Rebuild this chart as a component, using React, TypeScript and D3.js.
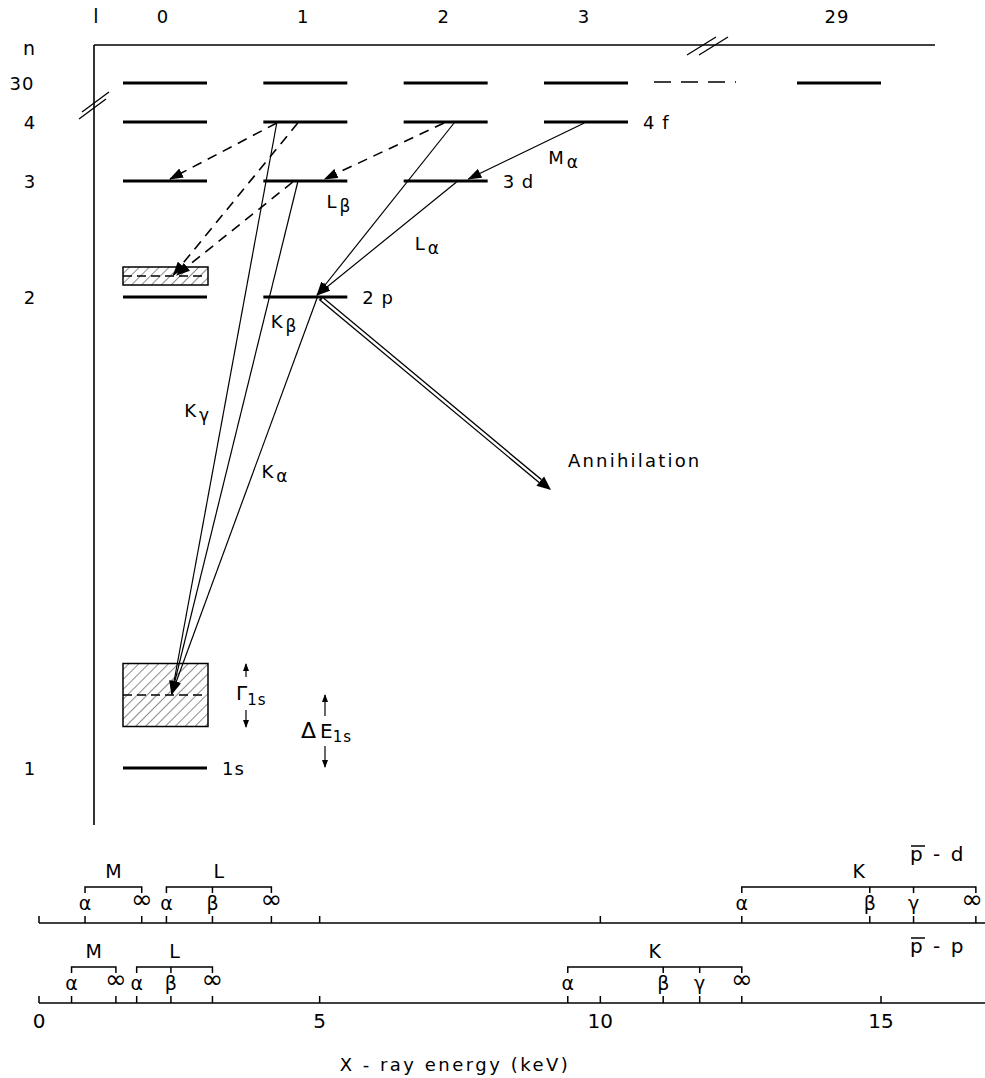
import React from "react";
import * as d3 from "d3";

// header / row labels
const lHeader = [0, 1, 2, 3, 29];
const nHeader = [1, 2, 3, 4, 30];

// atomic levels present in the scheme
const levels = [
  { n: 30, l: 0 }, { n: 30, l: 1 }, { n: 30, l: 2 }, { n: 30, l: 3 }, { n: 30, l: 29 },
  { n: 4, l: 0 }, { n: 4, l: 1 }, { n: 4, l: 2 }, { n: 4, l: 3, name: "4 f" },
  { n: 3, l: 0 }, { n: 3, l: 1 }, { n: 3, l: 2, name: "3 d" },
  { n: 2, l: 0 }, { n: 2, l: 1, name: "2 p" },
  { n: 1, l: 0, name: "1s" },
];

// s levels shifted and broadened by the strong interaction
const broadened = [
  { n: 2, l: 0, shift: 21, width: 18 },
  { n: 1, l: 0, shift: 73, width: 63 },
];

const transitions = [
  { name: "K", sub: "α", from: [2, 1], to: [1, 0], dashed: false },
  { name: "K", sub: "β", from: [3, 1], to: [1, 0], dashed: false },
  { name: "K", sub: "γ", from: [4, 1], to: [1, 0], dashed: false },
  { name: "L", sub: "α", from: [3, 2], to: [2, 1], dashed: false },
  { name: "L", sub: "β", from: [4, 2], to: [2, 1], dashed: false },
  { name: "M", sub: "α", from: [4, 3], to: [3, 2], dashed: false },
  { name: "", sub: "", from: [4, 1], to: [3, 0], dashed: true },
  { name: "", sub: "", from: [4, 1], to: [2, 0], dashed: true },
  { name: "", sub: "", from: [3, 1], to: [2, 0], dashed: true },
  { name: "", sub: "", from: [4, 2], to: [3, 1], dashed: true },
];

// X-ray line energies (keV)
const pdGroups = [
  { name: "M", lines: [["α", 0.82], ["∞", 1.83]] },
  { name: "L", lines: [["α", 2.27], ["β", 3.09], ["∞", 4.14]] },
  { name: "K", lines: [["α", 12.52], ["β", 14.8], ["γ", 15.58], ["∞", 16.69]] },
];
const ppGroups = [
  { name: "M", lines: [["α", 0.58], ["∞", 1.37]] },
  { name: "L", lines: [["α", 1.74], ["β", 2.35], ["∞", 3.09]] },
  { name: "K", lines: [["α", 9.42], ["β", 11.12], ["γ", 11.77], ["∞", 12.52]] },
];
const pdTicks = [0, 5, 10];
const ppTicks = [0, 5, 10, 15];

// layout of transition anchors: [fromFrac, toFrac, labelT, labelDx, labelDy]
const transLayout = [
  [0.64, 0.58, 0.424, 6, 12],
  [0.41, 0.58, 0.262, 6, 12],
  [0.16, 0.58, 0.5, -40, 8],
  [0.63, 0.64, 0.53, 32, 8],
  [0.6, 0.64, 0.45, -66, 8],
  [0.48, 0.77, 0.2, -13, 30],
  [0.16, 0.56, 0, 0, 0],
  [0.41, 0.6, 0, 0, 0],
  [0.35, 0.64, 0, 0, 0],
  [0.48, 0.73, 0, 0, 0],
];

const W = 985;
const H = 1078;
const FONT = "DejaVu Sans, sans-serif";
const LW = 84;

const xL = d3.scaleLinear().domain([0, 3, 29]).range([123, 544, 797]);
const yN = d3.scaleLinear().domain([1, 2, 3, 4, 30]).range([768, 297, 181, 122, 83]);
const xE = d3.scaleLinear().domain([0, 15]).range([39, 881]);

function levelY(n: number, l: number) {
  const b = broadened.find((d) => d.n === n && d.l === l);
  return b ? yN(n) - b.shift : yN(n);
}

function Spectrum({ groups, axisY, ticks, title, titleY }: any) {
  const brY = axisY - 36;
  return (
    <g>
      <line x1={xE(0)} x2={W} y1={axisY} y2={axisY} stroke="#000" strokeWidth={1.5} />
      {ticks.map((t: number) => (
        <line key={t} x1={xE(t)} x2={xE(t)} y1={axisY} y2={axisY - 7} stroke="#000" strokeWidth={1.5} />
      ))}
      {groups.map((g: any) => {
        const es = g.lines.map((d: any) => d[1]);
        const x0 = xE(d3.min(es) as number);
        const x1 = xE(d3.max(es) as number);
        return (
          <g key={g.name}>
            <path d={`M${x0},${brY + 6}V${brY}H${x1}V${brY + 6}`} fill="none" stroke="#000" strokeWidth={1.5} />
            <text x={(x0 + x1) / 2} y={brY - 9} textAnchor="middle" fontSize={19} fontFamily={FONT}>{g.name}</text>
            {g.lines.map((d: any, i: number) => (
              <g key={i}>
                {i > 0 && i < g.lines.length - 1 && (
                  <line x1={xE(d[1])} x2={xE(d[1])} y1={brY} y2={brY + 6} stroke="#000" strokeWidth={1.5} />
                )}
                <line x1={xE(d[1])} x2={xE(d[1])} y1={axisY} y2={axisY - 7} stroke="#000" strokeWidth={1.5} />
                <text x={Math.min(xE(d[1]), W - 13)} y={axisY - (d[0] === "∞" ? 15 : 13)} textAnchor="middle"
                  fontSize={d[0] === "∞" ? 26 : 19} fontFamily={FONT}>{d[0]}</text>
              </g>
            ))}
          </g>
        );
      })}
      <text x={910} y={titleY} fontSize={20} fontFamily={FONT} letterSpacing={2}>{"p  -  " + title}</text>
      <line x1={911} x2={925} y1={titleY - 15} y2={titleY - 15} stroke="#000" strokeWidth={1.5} />
    </g>
  );
}

export default function App() {
  return (
    <div style={{ position: "absolute", left: 0, top: 0 }}>
      <svg width={W} height={H} style={{ display: "block", background: "#fff" }}>
        <defs>
          <pattern id="hatch" patternUnits="userSpaceOnUse" width={7} height={7} patternTransform="rotate(45)">
            <line x1={0} y1={0} x2={0} y2={7} stroke="#000" strokeWidth={0.9} />
          </pattern>
          <marker id="head" markerUnits="userSpaceOnUse" markerWidth={14} markerHeight={10} refX={13} refY={5} orient="auto">
            <path d="M0,0L14,5L0,10z" fill="#000" />
          </marker>
          <marker id="small" markerUnits="userSpaceOnUse" markerWidth={8} markerHeight={6} refX={7} refY={3} orient="auto">
            <path d="M0,0L8,3L0,6z" fill="#000" />
          </marker>
        </defs>

        {/* headers */}
        <text x={96} y={23} textAnchor="middle" fontSize={19} fontFamily={FONT}>l</text>
        {lHeader.map((l) => (
          <text key={l} x={xL(l) + 40} y={23} textAnchor="middle" fontSize={18} fontFamily={FONT} letterSpacing={1}>{l}</text>
        ))}
        <text x={29} y={55} textAnchor="middle" fontSize={19} fontFamily={FONT}>n</text>
        {nHeader.map((n) => (
          <text key={n} x={n === 30 ? 22 : 30} y={yN(n) + 7} textAnchor="middle" fontSize={18} fontFamily={FONT} letterSpacing={1}>{n}</text>
        ))}

        {/* frame */}
        <line x1={94} x2={94} y1={45} y2={825} stroke="#000" strokeWidth={1.6} />
        <line x1={94} x2={935} y1={45} y2={45} stroke="#000" strokeWidth={1.4} />
        <line x1={79} x2={106} y1={119} y2={99} stroke="#000" strokeWidth={1.3} />
        <line x1={82} x2={109} y1={112} y2={92} stroke="#000" strokeWidth={1.3} />
        <line x1={687} x2={716} y1={55} y2={37} stroke="#000" strokeWidth={1.3} />
        <line x1={699} x2={728} y1={55} y2={37} stroke="#000" strokeWidth={1.3} />

        {/* levels */}
        {levels.map((d, i) => (
          <g key={i}>
            <line x1={xL(d.l)} x2={xL(d.l) + LW} y1={yN(d.n)} y2={yN(d.n)} stroke="#000" strokeWidth={2.8} />
            {d.name && (
              <text x={xL(d.l) + LW + 15} y={yN(d.n) + 7} fontSize={18} fontFamily={FONT} letterSpacing={1}>{d.name}</text>
            )}
          </g>
        ))}
        <line x1={654} x2={736} y1={yN(30) - 1} y2={yN(30) - 1} stroke="#000" strokeWidth={1.5} strokeDasharray="17 10" />

        {broadened.map((b, i) => {
          const yc = levelY(b.n, b.l);
          return (
            <g key={i}>
              <rect x={xL(b.l)} y={yc - b.width / 2} width={LW + 1} height={b.width} fill="url(#hatch)" stroke="#000" strokeWidth={1.5} />
              <line x1={xL(b.l)} x2={xL(b.l) + LW} y1={yc} y2={yc} stroke="#000" strokeWidth={1.5} strokeDasharray="9 5" />
            </g>
          );
        })}

        {/* transitions */}
        {transitions.map((t, i) => {
          const [f0, f1, lt, ldx, ldy] = transLayout[i];
          const x0 = xL(t.from[1]) + f0 * LW;
          const y0 = yN(t.from[0]) + 1;
          const x1 = xL(t.to[1]) + f1 * LW;
          const broad = broadened.some((b) => b.n === t.to[0] && b.l === t.to[1]);
          const y1 = broad ? levelY(t.to[0], t.to[1]) - 1 : yN(t.to[0]) - 2;
          const lx = x0 + (x1 - x0) * lt + ldx;
          const ly = y0 + (y1 - y0) * lt + ldy;
          return (
            <g key={i}>
              <line x1={x0} y1={y0} x2={x1} y2={y1} stroke="#000" strokeWidth={t.dashed ? 1.6 : 1.2}
                strokeDasharray={t.dashed ? "10 7" : undefined} markerEnd="url(#head)" />
              {t.name && (
                <text x={lx} y={ly} fontSize={18} fontFamily={FONT}>
                  {t.name}
                  <tspan dx={3} dy={4} fontSize={17}>{t.sub}</tspan>
                </text>
              )}
            </g>
          );
        })}

        {/* annihilation */}
        {(() => {
          const x0 = xL(1) + 0.68 * LW, y0 = yN(2) + 1;
          const x1 = 551, y1 = 490;
          const a = Math.atan2(y1 - y0, x1 - x0);
          const bx = x1 - 14 * Math.cos(a), by = y1 - 14 * Math.sin(a);
          const nx = -Math.sin(a), ny = Math.cos(a);
          return (
            <g>
              <line x1={x0} y1={y0} x2={bx} y2={by} stroke="#000" strokeWidth={5} />
              <line x1={x0 + 2 * Math.cos(a)} y1={y0 + 2 * Math.sin(a)} x2={bx + 2 * Math.cos(a)} y2={by + 2 * Math.sin(a)} stroke="#fff" strokeWidth={2.4} />
              <path d={`M${x1},${y1}L${bx + 6 * nx},${by + 6 * ny}L${bx - 6 * nx},${by - 6 * ny}z`} fill="#000" />
              <text x={568} y={467} fontSize={18} fontFamily={FONT} letterSpacing={2.2}>Annihilation</text>
            </g>
          );
        })()}

        {/* widths and shifts */}
        <line x1={246} x2={246} y1={677} y2={664} stroke="#000" strokeWidth={1.2} markerEnd="url(#small)" />
        <line x1={246} x2={246} y1={710} y2={727} stroke="#000" strokeWidth={1.2} markerEnd="url(#small)" />
        <text x={236} y={700} fontSize={20} fontFamily={FONT}>Γ<tspan dy={5} fontSize={15} letterSpacing={1}>1s</tspan></text>
        <line x1={325} x2={325} y1={716} y2={695} stroke="#000" strokeWidth={1.2} markerEnd="url(#small)" />
        <line x1={325} x2={325} y1={746} y2={767} stroke="#000" strokeWidth={1.2} markerEnd="url(#small)" />
        <text x={301} y={738} fontSize={22} fontFamily={FONT}>Δ<tspan dx={4} fontSize={20}>E</tspan><tspan dy={4} fontSize={15} letterSpacing={1}>1s</tspan></text>

        {/* X-ray spectra */}
        <Spectrum groups={pdGroups} axisY={923} ticks={pdTicks} title="d" titleY={861} />
        <Spectrum groups={ppGroups} axisY={1003} ticks={ppTicks} title="p" titleY={953} />
        {ppTicks.map((t) => (
          <text key={t} x={xE(t)} y={1028} textAnchor="middle" fontSize={20} fontFamily={FONT}>{t}</text>
        ))}
        <text x={455} y={1071} textAnchor="middle" fontSize={18} fontFamily={FONT} letterSpacing={2.5}>X - ray  energy (keV)</text>
      </svg>
    </div>
  );
}
